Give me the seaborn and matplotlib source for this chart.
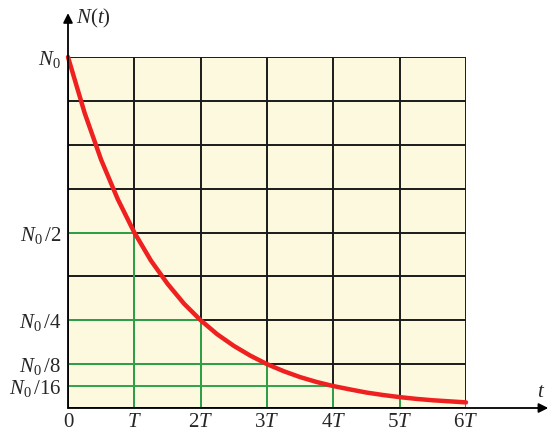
import matplotlib
matplotlib.use("Agg")
import matplotlib.pyplot as plt
import seaborn as sns
import pandas as pd

# decay curve (t in units of T, N in units of N0)
t_vals = [0, 0.25, 0.5, 0.75, 1, 1.25, 1.5, 1.75, 2, 2.25, 2.5, 2.75, 3,
          3.25, 3.5, 3.75, 4, 4.25, 4.5, 4.75, 5, 5.25, 5.5, 5.75, 6]
n_vals = [1.0, 0.841, 0.707, 0.595, 0.5, 0.42, 0.354, 0.297, 0.25, 0.21,
          0.177, 0.149, 0.125, 0.105, 0.088, 0.074, 0.0625, 0.053, 0.044,
          0.037, 0.031, 0.026, 0.022, 0.019, 0.016]

# marked half-life points
half_t = [1, 2, 3, 4]
half_n = [0.5, 0.25, 0.125, 0.0625]
half_labels = [r"$N_0\,/2$", r"$N_0\,/4$", r"$N_0\,/8$", r"$N_0\,/16$"]
end_t = [5, 6]
end_n = [0.031, 0.016]

x_ticks = [0, 1, 2, 3, 4, 5, 6]
x_labels = ["0", "$T$", "$2T$", "$3T$", "$4T$", "$5T$", "$6T$"]
grid_y = [0, 0.125, 0.25, 0.375, 0.5, 0.625, 0.75, 0.875, 1.0]

sns.set_style("white")
plt.rcParams["mathtext.fontset"] = "custom"
plt.rcParams["mathtext.rm"] = "Liberation Serif"
plt.rcParams["mathtext.it"] = "Liberation Serif:italic"
plt.rcParams["font.family"] = ["Liberation Serif", "DejaVu Serif"]

fig = plt.figure(figsize=(5.49, 4.33), dpi=100)
ax = fig.add_axes([68 / 549, 25 / 433, 398 / 549, 351 / 433])
ax.set_xlim(0, 6)
ax.set_ylim(0, 1)
ax.set_facecolor("#FCF9DF")

grid_col = "#1a1a1a"
green = "#2FA24A"
ax.vlines(x_ticks, 0, 1, color=grid_col, lw=1.4, zorder=1)
ax.hlines(grid_y, 0, 6, color=grid_col, lw=1.4, zorder=1)

# green guide lines
ax.hlines(half_n, 0, half_t, color=green, lw=1.4, zorder=2)
ax.vlines(half_t + end_t, 0, half_n + end_n, color=green, lw=1.4, zorder=2)

df = pd.DataFrame({"t": t_vals, "N": n_vals})
sns.lineplot(data=df, x="t", y="N", ax=ax, color="#EE2020", lw=3.2,
             zorder=3, clip_on=False)

for s in ax.spines.values():
    s.set_visible(False)

# axes with arrows
ax.annotate("", xy=(7.24, 0), xytext=(0, 0), xycoords="data",
            arrowprops=dict(arrowstyle="-|>", color="black", lw=1.3,
                            mutation_scale=14, shrinkA=0, shrinkB=0),
            annotation_clip=False)
ax.annotate("", xy=(0, 1.125), xytext=(0, 0), xycoords="data",
            arrowprops=dict(arrowstyle="-|>", color="black", lw=1.3,
                            mutation_scale=14, shrinkA=0, shrinkB=0),
            annotation_clip=False)

ax.set_xticks(x_ticks)
ax.set_xticklabels(x_labels, fontsize=15)
ax.set_yticks([1.0] + half_n)
ax.set_yticklabels([r"$N_0$"] + half_labels, fontsize=15)
ax.tick_params(axis="y", length=0, pad=5)
ax.tick_params(axis="x", length=0, pad=3.5)
ax.set_xlabel("")
ax.set_ylabel("")

ax.text(0.12, 1.11, r"$N(t)$", fontsize=15, ha="left", va="center",
        transform=ax.transData, clip_on=False)
ax.text(7.13, 0.045, r"$t$", fontsize=15, ha="center", va="center",
        transform=ax.transData, clip_on=False)

fig.savefig("out.png", dpi=100)
